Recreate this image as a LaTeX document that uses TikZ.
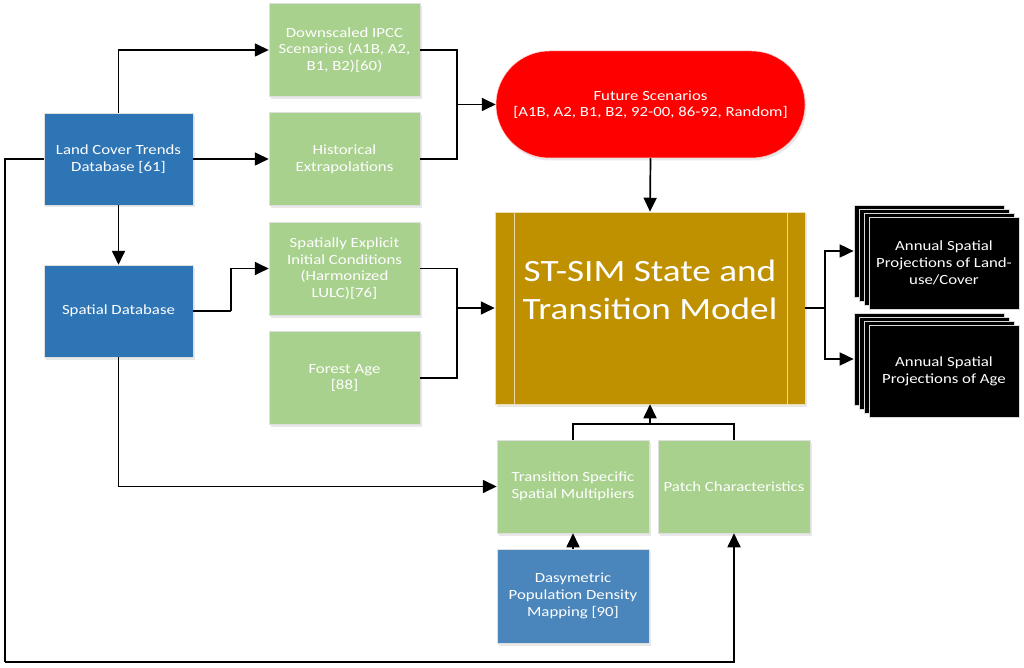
\documentclass[tikz,border=0pt]{standalone}
\usepackage{fontspec}
\setmainfont{Carlito}[FakeStretch=1.2]
\usetikzlibrary{arrows.meta,shadows,calc}
\definecolor{dblue}{HTML}{2E75B6}
\definecolor{lblue}{HTML}{4A86BC}
\definecolor{lgreen}{HTML}{A9D18E}
\definecolor{gold}{HTML}{BF9000}
\definecolor{redfill}{HTML}{FF0000}
\tikzset{
  box/.style={draw=white!75!gray, line width=0.5pt, text=white, align=center,
    inner sep=0pt, font=\fontsize{14}{16.7}\selectfont,
    drop shadow={opacity=0.18, shadow xshift=1.5pt, shadow yshift=-2.5pt}},
  bluebox/.style={box, fill=dblue, minimum width=149pt, minimum height=92pt},
  greenbox/.style={box, fill=lgreen, minimum width=151pt, minimum height=93pt},
  layer/.style={draw=white!70!gray, line width=0.7pt, fill=black,
    minimum width=150pt, minimum height=92pt, inner sep=0pt},
  arr/.style={line width=1.7pt, -{Triangle[length=14pt,width=13pt]}},
  conn/.style={line width=1.7pt},
}
\begin{document}
\begin{tikzpicture}[x=1pt,y=-1pt]
\useasboundingbox (0,0) rectangle (1024,668);

% left column
\node[bluebox] (lct) at (118.5,159) {Land Cover Trends\\Database [61]};
\node[bluebox] (sdb) at (118.5,311) {Spatial Database};

% second column
\node[greenbox] (ipcc) at (344.5,50) {Downscaled IPCC\\Scenarios (A1B, A2,\\B1, B2)[60)};
\node[greenbox] (hist) at (344.5,159) {Historical\\Extrapolations};
\node[greenbox] (sei) at (344.5,268.5) {Spatially Explicit\\Initial Conditions\\(Harmonized\\LULC)[76]};
\node[greenbox] (fage) at (344.5,378) {Forest Age\\{}[88]};

% future scenarios
\node[box, fill=redfill, draw=white!80!red, minimum width=309pt, minimum height=107pt,
  rounded corners=53.5pt] (fut) at (650.5,104.5)
  {Future Scenarios\\{}[A1B, A2, B1, B2, 92-00, 86-92, Random]};

% ST-SIM
\node[box, fill=gold, draw=white!70!gold, minimum width=310pt, minimum height=192pt] (stsim) at (650,308) {};
\draw[white!65!gold, line width=0.8pt] (514,212) -- (514,404) (787,212) -- (787,404);
\node[text=white, align=center, font=\fontsize{31}{37.8}\selectfont] (stsimlabel) at (650,290) {ST-SIM State and\\Transition Model};

% bottom boxes
\node[greenbox, minimum width=152pt] (tsm) at (573,486.5) {Transition Specific\\Spatial Multipliers};
\node[greenbox, minimum width=152pt] (patch) at (734,486.5) {Patch Characteristics};
\node[box, fill=lblue, minimum width=152pt, minimum height=94pt] (dasy) at (573,596) {Dasymetric\\Population Density\\Mapping [90]};

% stacked outputs
\node[layer] (out1b) at (929,251) {};
\node[layer] (out1c) at (934,255) {};
\node[layer] (out1d) at (939,259) {};
\node[layer, text=white, align=center, font=\fontsize{14}{16.7}\selectfont] (out1) at (944,263)
  {Annual Spatial\\Projections of Land-\\use/Cover};
\node[layer] (out2b) at (929,359) {};
\node[layer] (out2c) at (934,363) {};
\node[layer] (out2d) at (939,367) {};
\node[layer, text=white, align=center, font=\fontsize{14}{16.7}\selectfont] (out2) at (944,371)
  {Annual Spatial\\Projections of Age};

% junction coordinates
\coordinate (j1) at (231,311);
\coordinate (j2) at (457,104.5);
\coordinate (j3) at (457,308);
\coordinate (j4) at (825,308);
\coordinate (j5) at (650,424);
\coordinate (lb) at (5,662);

% connectors
\draw[arr] (lct.north) |- (ipcc.west);
\draw[arr] (lct.east) -- (hist.west);
\draw[arr] (lct.south) -- (sdb.north);
\draw[conn] (sdb.east) -- (j1);
\draw[arr] (j1) |- (sei.west);
\draw[conn] (ipcc.east) -| (j2);
\draw[conn] (hist.east) -| (j2);
\draw[arr] (j2) -- (fut.west);
\draw[conn] (sei.east) -| (j3);
\draw[conn] (fage.east) -| (j3);
\draw[arr] (j3) -- (stsim.west);
\draw[arr] (fut.south) -- (stsim.north);
\draw[conn] (stsim.east) -- (j4);
\draw[arr] (j4) |- (out1b.west);
\draw[arr] (j4) |- (out2b.west);
\draw[conn] (tsm.north) |- (j5);
\draw[conn] (patch.north) |- (j5);
\draw[arr] (j5) -- (stsim.south);
\draw[arr] (sdb.south) |- (tsm.west);
\draw[arr] (dasy.north) -- (tsm.south);
\draw[conn] (lct.west) -| (lb);
\draw[arr] (lb) -| (patch.south);
\end{tikzpicture}
\end{document}
